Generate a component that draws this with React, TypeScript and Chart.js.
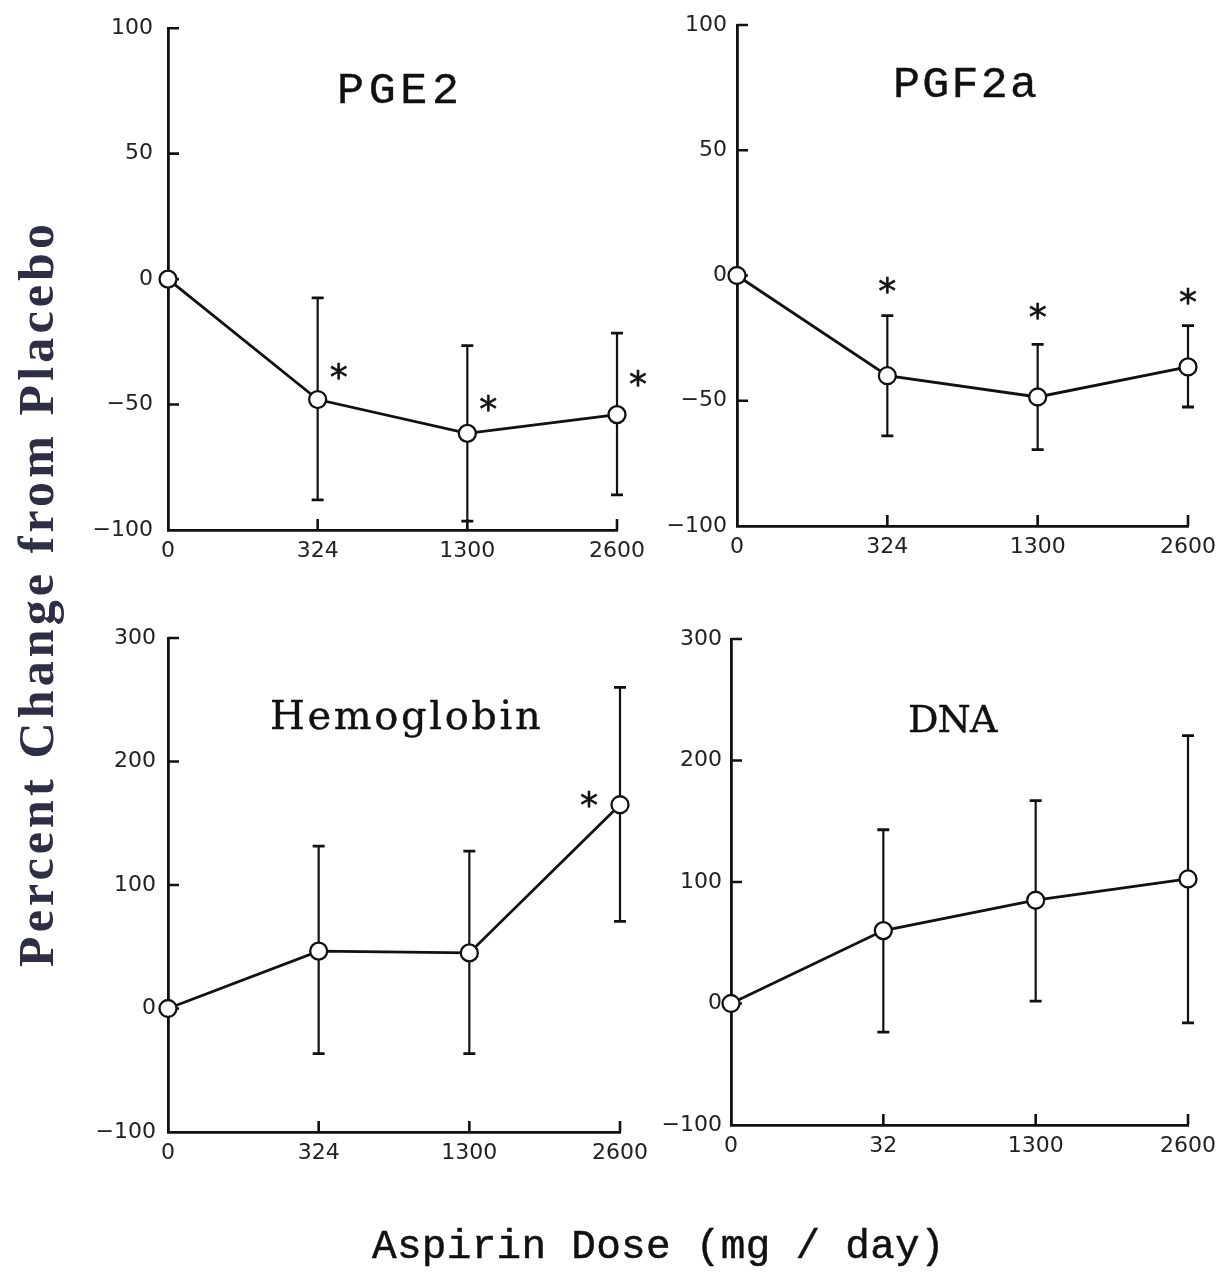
import React, { useEffect, useRef } from "react";
import { Chart, registerables } from "chart.js";

Chart.register(...registerables);

// ---------- data ----------
const doseLabels = ["0", "324", "1300", "2600"];
const dnaDoseLabels = ["0", "32", "1300", "2600"];

const topYTicks = [-100, -50, 0, 50, 100];
const bottomYTicks = [-100, 0, 100, 200, 300];

const pge2Mean = [0, -48, -61.5, -54];
const pge2Upper = [null, -7.5, -26.5, -21.5];
const pge2Lower = [null, -88, -96.5, -86];
const pge2Star = [null, -37, -49.5, -39.5];

const pgf2aMean = [0, -40, -48.5, -36.5];
const pgf2aUpper = [null, -16, -27.5, -20];
const pgf2aLower = [null, -64, -69.5, -52.5];
const pgf2aStar = [null, -4, -14.5, -8.5];

const hbMean = [0, 46.5, 45, 165];
const hbUpper = [null, 131.5, 127.5, 260];
const hbLower = [null, -36.5, -36.5, 70.5];
const hbStar = [null, null, null, 169];

const dnaMean = [0, 60, 85, 102.5];
const dnaUpper = [null, 143, 167, 220.5];
const dnaLower = [null, -23.5, 2, -16];
const dnaStar = [null, null, null, null];

const yAxisTitle = "Percent Change from Placebo";
const xAxisTitle = "Aspirin Dose (mg / day)";

// ---------- layout / style ----------
const PAGE_W = 1224;
const PAGE_H = 1283;
const Y_AXIS_W = 80;
const X_AXIS_H = 45;
const INK = "#111111";
const TICK_FONT = { family: "'DejaVu Sans', sans-serif", size: 22 };

type Panel = {
  title: string;
  labels: string[];
  mean: number[];
  upper: (number | null)[];
  lower: (number | null)[];
  star: (number | null)[];
  yTicks: number[];
  area: { l: number; r: number; t: number; b: number };
  yPad: number;
  starDx: number;
  titleFont: string;
  titleX: number;
  titleY: number;
  titleW: number;
};

const panels: Panel[] = [
  {
    title: "PGE2", labels: doseLabels, mean: pge2Mean, upper: pge2Upper, lower: pge2Lower, star: pge2Star,
    yTicks: topYTicks, area: { l: 168, r: 617, t: 27.5, b: 530 }, yPad: 15, starDx: 21,
    titleFont: "45px 'Liberation Mono', monospace", titleX: 398, titleY: 103, titleW: 116,
  },
  {
    title: "PGF2a", labels: doseLabels, mean: pgf2aMean, upper: pgf2aUpper, lower: pgf2aLower, star: pgf2aStar,
    yTicks: topYTicks, area: { l: 737, r: 1188, t: 25, b: 526 }, yPad: 10, starDx: 0,
    titleFont: "45px 'Liberation Mono', monospace", titleX: 966, titleY: 97, titleW: 140,
  },
  {
    title: "Hemoglobin", labels: doseLabels, mean: hbMean, upper: hbUpper, lower: hbLower, star: hbStar,
    yTicks: bottomYTicks, area: { l: 168, r: 620, t: 638, b: 1132 }, yPad: 12, starDx: -31,
    titleFont: "40px 'DejaVu Serif', serif", titleX: 406, titleY: 729, titleW: 268,
  },
  {
    title: "DNA", labels: dnaDoseLabels, mean: dnaMean, upper: dnaUpper, lower: dnaLower, star: dnaStar,
    yTicks: bottomYTicks, area: { l: 731, r: 1189, t: 639, b: 1125 }, yPad: 9, starDx: 0,
    titleFont: "38px 'DejaVu Serif', serif", titleX: 954, titleY: 732, titleW: 88,
  },
];

function drawFitted(
  ctx: CanvasRenderingContext2D, text: string, cx: number, baseline: number, font: string,
  targetW: number, stroke: number
) {
  ctx.font = font;
  ctx.textAlign = "left";
  ctx.textBaseline = "alphabetic";
  (ctx as any).letterSpacing = "0px";
  const m = ctx.measureText(text);
  const w0 = m.actualBoundingBoxLeft + m.actualBoundingBoxRight;
  const sp = text.length > 1 ? (targetW - w0) / (text.length - 1) : 0;
  (ctx as any).letterSpacing = `${sp}px`;
  const x = cx - targetW / 2 + m.actualBoundingBoxLeft;
  ctx.fillText(text, x, baseline);
  if (stroke > 0) {
    ctx.lineWidth = stroke;
    ctx.strokeText(text, x, baseline);
  }
  (ctx as any).letterSpacing = "0px";
}

function makeConfig(p: Panel, withPageTitles: boolean): any {
  const fmt = (v: number) => (v < 0 ? "\u2212" + Math.abs(v) : String(v));

  const panelPlugin = {
    id: "panelDecor",
    beforeDatasetsDraw(chart: any) {
      const ctx = chart.ctx as CanvasRenderingContext2D;
      const xs = chart.scales.x;
      const ys = chart.scales.y;
      ctx.save();
      ctx.strokeStyle = INK;
      ctx.lineCap = "butt";
      p.upper.forEach((u, i) => {
        const lo = p.lower[i];
        if (u === null || lo === null) return;
        const x = xs.getPixelForValue(i);
        const yu = ys.getPixelForValue(u);
        const yl = ys.getPixelForValue(lo);
        ctx.lineWidth = 2.2;
        ctx.beginPath();
        ctx.moveTo(x, yu);
        ctx.lineTo(x, yl);
        ctx.stroke();
        ctx.lineWidth = 2.8;
        ctx.beginPath();
        ctx.moveTo(x - 6, yu);
        ctx.lineTo(x + 6, yu);
        ctx.moveTo(x - 6, yl);
        ctx.lineTo(x + 6, yl);
        ctx.stroke();
      });
      // inward tick marks
      const ca = chart.chartArea;
      ctx.lineWidth = 2.6;
      ctx.beginPath();
      p.yTicks.forEach((v, k) => {
        if (k === 0) return;
        const y = ys.getPixelForValue(v);
        ctx.moveTo(ca.left, y);
        ctx.lineTo(ca.left + 11, y);
      });
      p.labels.forEach((_, i) => {
        if (i === 0) return;
        const x = xs.getPixelForValue(i);
        ctx.moveTo(x, ca.bottom);
        ctx.lineTo(x, ca.bottom - 11);
      });
      ctx.stroke();
      ctx.restore();
    },
    afterDatasetsDraw(chart: any) {
      const ctx = chart.ctx as CanvasRenderingContext2D;
      const xs = chart.scales.x;
      const ys = chart.scales.y;
      ctx.save();
      ctx.fillStyle = INK;
      ctx.strokeStyle = INK;
      // significance asterisks
      ctx.font = "36px 'DejaVu Sans', sans-serif";
      ctx.textAlign = "center";
      ctx.textBaseline = "alphabetic";
      const sm = ctx.measureText("*");
      const off = (sm.actualBoundingBoxAscent - sm.actualBoundingBoxDescent) / 2;
      p.star.forEach((s, i) => {
        if (s === null) return;
        const x = xs.getPixelForValue(i) + p.starDx;
        const y = ys.getPixelForValue(s);
        ctx.fillText("*", x, y + off);
        ctx.lineWidth = 0.6;
        ctx.strokeText("*", x, y + off);
      });
      // panel title
      drawFitted(ctx, p.title, p.titleX, p.titleY, p.titleFont, p.titleW, 0.4);
      if (withPageTitles) {
        // y axis title (rotated)
        ctx.save();
        ctx.fillStyle = "#2e2e46";
        ctx.strokeStyle = "#2e2e46";
        ctx.translate(53, 596);
        ctx.rotate(-Math.PI / 2);
        drawFitted(ctx, yAxisTitle, 0, 0, "bold 50px 'Liberation Serif', serif", 742, 0);
        ctx.restore();
        // x axis title
        drawFitted(ctx, xAxisTitle, 655, 1258, "41px 'Liberation Mono', monospace", 566, 0.5);
      }
      ctx.restore();
    },
  };

  return {
    type: "line",
    data: {
      labels: p.labels,
      datasets: [
        {
          data: p.mean,
          borderColor: INK,
          borderWidth: 2.8,
          pointRadius: 8.5,
          pointBorderWidth: 2.3,
          pointBackgroundColor: "#ffffff",
          pointBorderColor: INK,
          tension: 0,
          clip: false,
        },
      ],
    },
    options: {
      animation: false,
      responsive: false,
      events: [],
      layout: {
        autoPadding: false,
        padding: {
          left: p.area.l - Y_AXIS_W,
          top: p.area.t,
          right: PAGE_W - p.area.r,
          bottom: PAGE_H - p.area.b - X_AXIS_H,
        },
      },
      plugins: {
        legend: { display: false },
        title: { display: false },
        tooltip: { enabled: false },
      },
      scales: {
        x: {
          type: "category",
          offset: false,
          grid: { display: false, drawTicks: false, tickLength: 0 },
          border: { display: true, color: INK, width: 2.8 },
          ticks: {
            padding: 8,
            color: "#222",
            font: TICK_FONT,
            maxRotation: 0,
            autoSkip: false,
          },
          afterFit: (s: any) => {
            s.height = X_AXIS_H;
          },
        },
        y: {
          type: "linear",
          min: p.yTicks[0],
          max: p.yTicks[p.yTicks.length - 1],
          grid: { display: false, drawTicks: false, tickLength: 0 },
          border: { display: true, color: INK, width: 2.8 },
          afterBuildTicks: (s: any) => {
            s.ticks = p.yTicks.map((v) => ({ value: v }));
          },
          ticks: {
            padding: p.yPad,
            color: "#222",
            font: TICK_FONT,
            callback: (v: any) => fmt(Number(v)),
          },
          afterFit: (s: any) => {
            s.width = Y_AXIS_W;
          },
        },
      },
    },
    plugins: [panelPlugin],
  };
}

export default function App() {
  const refs = [useRef<HTMLCanvasElement>(null), useRef<HTMLCanvasElement>(null),
    useRef<HTMLCanvasElement>(null), useRef<HTMLCanvasElement>(null)];

  useEffect(() => {
    const charts: Chart[] = [];
    panels.forEach((p, i) => {
      const c = refs[i].current;
      if (!c) return;
      charts.push(new Chart(c, makeConfig(p, i === 0)));
    });
    return () => charts.forEach((ch) => ch.destroy());
  }, []);

  return (
    <div style={{ position: "absolute", left: 0, top: 0, width: PAGE_W, height: PAGE_H, background: "#fff" }}>
      {refs.map((r, i) => (
        <canvas
          key={i}
          ref={r}
          width={PAGE_W}
          height={PAGE_H}
          style={{ position: "absolute", left: 0, top: 0, width: PAGE_W, height: PAGE_H }}
        />
      ))}
    </div>
  );
}
